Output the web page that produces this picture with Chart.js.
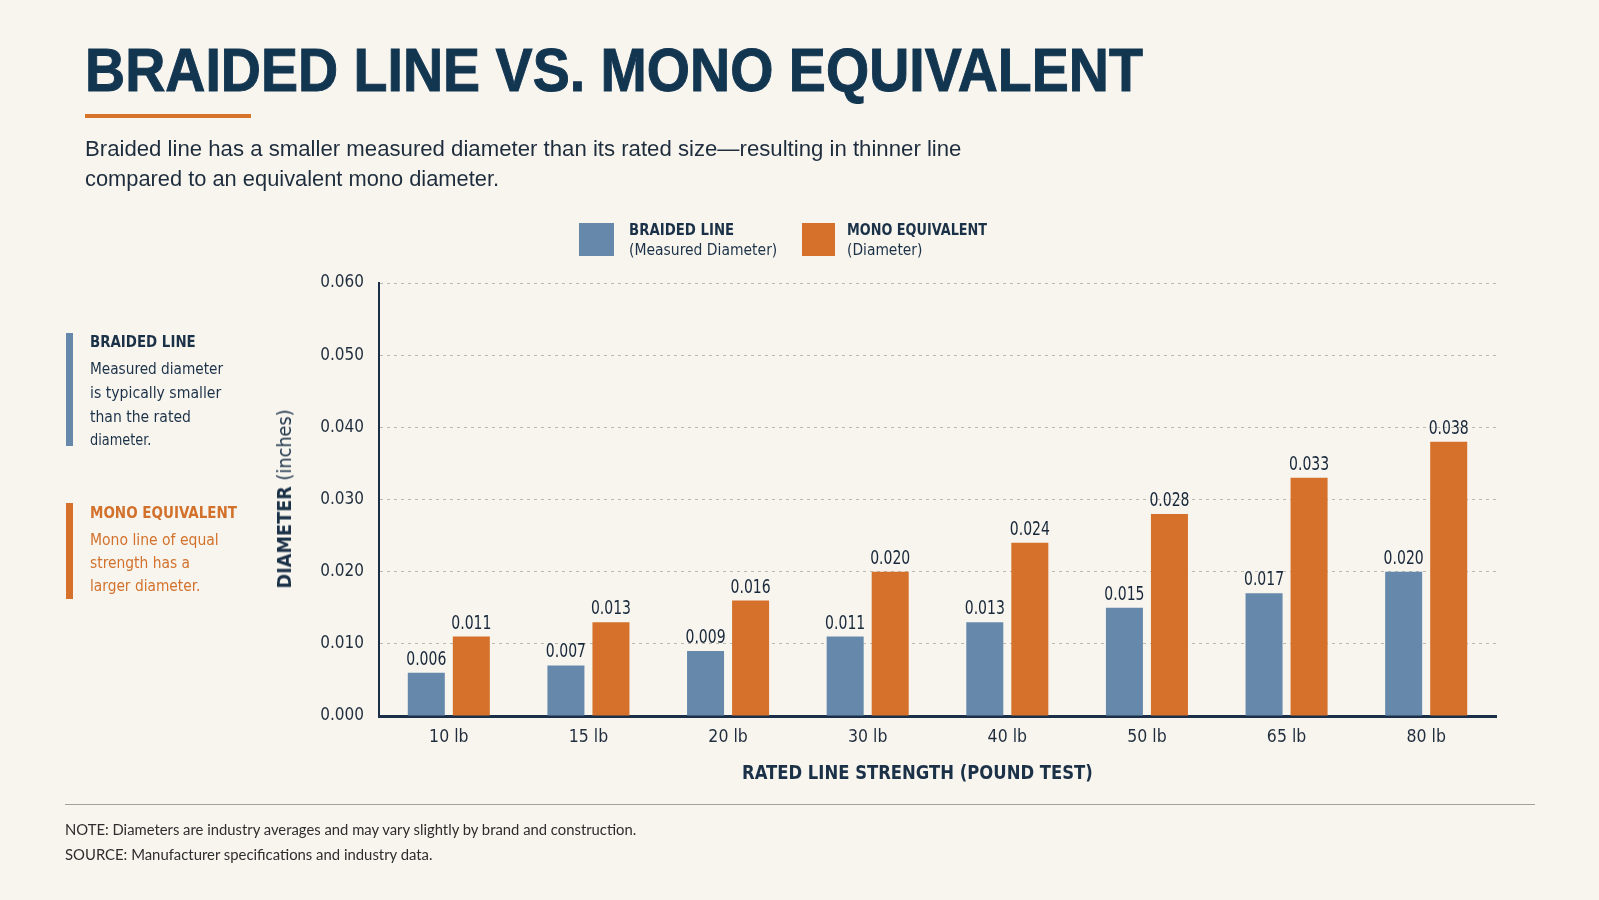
<!DOCTYPE html>
<html><head><meta charset="utf-8">
<script src="https://cdn.jsdelivr.net/npm/chart.js@4.4.1/dist/chart.umd.min.js"></script>
<style>
html,body{margin:0;padding:0;background:#f8f5ef;}
body{width:1599px;height:900px;position:relative;overflow:hidden;font-family:"Liberation Sans Narrow","DejaVu Sans Condensed",sans-serif;color:#1b3147;}
#c{position:absolute;left:0;top:0;}
.t{position:absolute;white-space:nowrap;line-height:1;transform-origin:0 0;display:inline-block;}
.b{position:absolute;}
</style></head><body>
<canvas id="c" width="1599" height="900"></canvas>
<div id="ov"></div>
<script>
// ---- data ----
const categories = ["10 lb","15 lb","20 lb","30 lb","40 lb","50 lb","65 lb","80 lb"];
const braidedValues = [0.006,0.007,0.009,0.011,0.013,0.015,0.017,0.020];
const monoValues = [0.011,0.013,0.016,0.020,0.024,0.028,0.033,0.038];
const yTickLabels = ["0.000","0.010","0.020","0.030","0.040","0.050","0.060"];
const seriesNames = ["BRAIDED LINE","MONO EQUIVALENT"];
const seriesNotes = ["(Measured Diameter)","(Diameter)"];

const NARROW = '"Liberation Sans Narrow","DejaVu Sans Condensed",sans-serif';
const NAVY = '#1b3147';
const BLUE = '#6689ab';
const ORANGE = '#d5712a';

const ov = document.getElementById('ov');
function box(x,y,w,h,color){const d=document.createElement('div');d.className='b';Object.assign(d.style,{left:x+'px',top:y+'px',width:w+'px',height:h+'px',background:color});ov.appendChild(d);return d;}
function txt(html,x,base,size,opts={}){
  const d=document.createElement('div');d.className='t';d.innerHTML=html;
  const fam=opts.family||NARROW; const k=opts.k||0.8465;
  Object.assign(d.style,{left:x+'px',top:(base-k*size)+'px',fontSize:size+'px',fontWeight:opts.weight||'normal',color:opts.color||NAVY,fontFamily:fam});
  if(opts.w) d.dataset.w=opts.w;
  ov.appendChild(d);return d;
}

// Title block
const title=txt("BRAIDED LINE VS. MONO EQUIVALENT",85,91.7,60.5,{weight:'bold',color:'#123550',w:1058,family:'"Liberation Sans","DejaVu Sans",sans-serif'});
title.style.webkitTextStroke='1px #123550';
box(84.5,113.5,166,4.5,'#d8732b');
txt("Braided line has a smaller measured diameter than its rated size—resulting in thinner line",85,156.7,22,{color:'#1e2d3d',w:876,family:'"Liberation Sans","DejaVu Sans",sans-serif'});
txt("compared to an equivalent mono diameter.",85,186.7,22,{color:'#1e2d3d',w:414,family:'"Liberation Sans","DejaVu Sans",sans-serif'});

// Legend
box(579,223,35,33,BLUE);
box(802,223,33,33,ORANGE);
txt(seriesNames[0],629,235.7,15.5,{weight:'bold',w:105});
txt(seriesNotes[0],629,255.7,16,{w:148});
txt(seriesNames[1],847,235.7,15.5,{weight:'bold',w:140});
txt(seriesNotes[1],847,255.7,16,{w:75});

// Left annotations
box(66,333,6.5,113,BLUE);
txt("BRAIDED LINE",90,347.3,16,{weight:'bold',w:106});
txt("Measured diameter",90,374.3,16,{w:133});
txt("is typically smaller",90,398.5,16,{w:131});
txt("than the rated",90,422.3,16,{w:101});
txt("diameter.",90,446,16,{w:61});
box(66,503,6.5,96,ORANGE);
txt("MONO EQUIVALENT",90,519,16,{weight:'bold',w:147,color:'#d2712b'});
txt("Mono line of equal",90,545.7,16,{w:129,color:'#d2712b'});
txt("strength has a",90,568.8,16,{w:100,color:'#d2712b'});
txt("larger diameter.",90,592,16,{w:110,color:'#d2712b'});

// Axis titles
const yt=document.createElement('div');
yt.className='t';
yt.innerHTML='<b>DIAMETER</b> (inches)';
Object.assign(yt.style,{left:'284px',top:'499px',fontSize:'20px',color:NAVY,transformOrigin:'50% 50%'});
yt.dataset.rot='1';yt.dataset.w=179;
ov.appendChild(yt);
txt("RATED LINE STRENGTH (POUND TEST)",742,779.3,20,{weight:'bold',w:351});

// Footer
box(64.7,803.5,1470,1.5,'#a3a19d');
txt("NOTE: Diameters are industry averages and may vary slightly by brand and construction.",65,835.5,14.5,{family:'Lato,"Open Sans",sans-serif',k:0.887,color:'#2d2d2d',w:571});
txt("SOURCE: Manufacturer specifications and industry data.",65,861,14.5,{family:'Lato,"Open Sans",sans-serif',k:0.887,color:'#2d2d2d',w:368});

function fit(){
  document.querySelectorAll('[data-w]').forEach(el=>{
    const s=(+el.dataset.w)/el.offsetWidth;
    if(el.dataset.rot){
      el.style.transform=`translate(-50%,-50%) rotate(-90deg) scaleX(${s})`;
    } else el.style.transform=`scaleX(${s})`;
  });
}
fit();

// Value labels plugin
const valueLabels={id:'valueLabels',afterDatasetsDraw(chart){
  const ctx=chart.ctx;
  chart.data.datasets.forEach((ds,di)=>{
    chart.getDatasetMeta(di).data.forEach((bar,i)=>{
      ctx.save();
      ctx.font='19px '+NARROW;ctx.fillStyle='#18283a';ctx.textAlign='center';ctx.textBaseline='alphabetic';
      ctx.translate(bar.x,bar.y-8);ctx.scale(0.82,1);
      ctx.fillText(ds.data[i].toFixed(3),0,0);
      ctx.restore();
    });
  });
}};

new Chart(document.getElementById('c'),{
  type:'bar',
  data:{labels:categories,datasets:[
    {label:seriesNames[0],data:braidedValues,backgroundColor:BLUE,barPercentage:0.822,categoryPercentage:0.645},
    {label:seriesNames[1],data:monoValues,backgroundColor:ORANGE,barPercentage:0.822,categoryPercentage:0.645}
  ]},
  options:{
    responsive:false,animation:false,devicePixelRatio:1,
    layout:{padding:{left:300,right:103,top:283,bottom:144}},
    plugins:{legend:{display:false},tooltip:{enabled:false}},
    scales:{
      x:{grid:{display:false,drawTicks:false},border:{display:true,color:'#1b3048',width:3},
         ticks:{padding:11,color:'#1f2d3d',font:{family:NARROW,size:17.5}},
         afterFit(s){s.height=40;}},
      y:{min:0,max:0.06,
         ticks:{stepSize:0.01,padding:15,color:'#1f2d3d',font:{family:NARROW,size:17}},
         grid:{color:'#bdb9b0',lineWidth:1,drawTicks:false},
         border:{display:true,color:'#1b3048',width:2,dash:[3,4]},
         afterFit(s){s.width=79;}}
    }
  },
  plugins:[valueLabels]
});
// tick labels come from yTickLabels
Chart.getChart('c').options.scales.y.ticks.callback=(v,i)=>yTickLabels[i];
Chart.getChart('c').update();
</script>
</body></html>
